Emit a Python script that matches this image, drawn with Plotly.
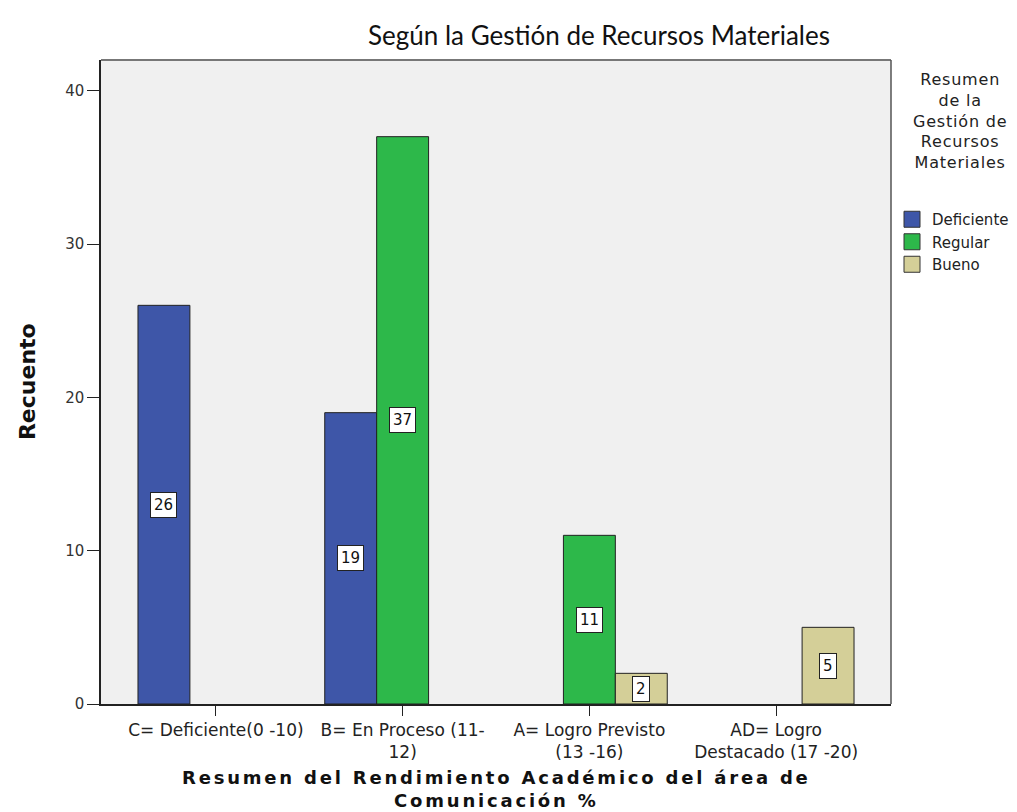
import plotly.graph_objects as go

categories = ["C= Deficiente(0 -10)", "B= En Proceso (11-<br>12)",
              "A= Logro Previsto<br>(13 -16)", "AD= Logro<br>Destacado (17 -20)"]
series_names = ["Deficiente", "Regular", "Bueno"]
deficiente = [26, 19, None, None]
regular = [None, 37, 11, None]
bueno = [None, None, 2, 5]
series_values = [deficiente, regular, bueno]
colors = ["#3e56a8", "#2db84a", "#d4cf98"]
y_ticks = [0, 10, 20, 30, 40]
title_text = "Según la Gestión de Recursos Materiales"
legend_title_lines = ["Resumen", "de la", "Gestión de", "Recursos", "Materiales"]
x_title_lines = ["Resumen del Rendimiento Académico del área de", "Comunicación %"]
y_title = "Recuento"

W, H = 1017, 812
ML, MR, MT, MB = 93, 133, 52, 116
PW, PH = W - ML - MR, H - MT - MB

bargap = 0.166
n_series = len(series_names)
bar_w = (1 - bargap) / n_series
xs = list(range(len(categories)))


def px_y(py):
    return 1 - (py - MT) / PH


def px_x(px):
    return (px - ML) / PW


def spaced(s, ls):
    return '<span style="letter-spacing:%spx">%s</span>' % (ls, s)


fig = go.Figure()
for name, vals, col in zip(series_names, series_values, colors):
    fig.add_trace(go.Bar(
        x=xs, y=vals, name=name, showlegend=False,
        marker=dict(color=col, line=dict(color="#222222", width=1)),
        hoverinfo="skip",
    ))
# legend entries (square swatches)
for name, col in zip(series_names, colors):
    fig.add_trace(go.Scatter(
        x=[None], y=[None], mode="markers", name=name,
        marker=dict(symbol="square", size=16, color=col,
                    line=dict(color="#333333", width=1)),
        hoverinfo="skip",
    ))

annotations = []
for si, vals in enumerate(series_values):
    off = (si - (n_series - 1) / 2) * bar_w
    for ci, v in enumerate(vals):
        if v is None:
            continue
        annotations.append(dict(
            x=xs[ci] + off, y=v / 2, xref="x", yref="y",
            text=str(v), showarrow=False,
            font=dict(family="DejaVu Sans", size=15, color="#111111"),
            bgcolor="white", bordercolor="#222222", borderwidth=1, borderpad=3,
        ))

# chart title
annotations.append(dict(
    x=px_x(592), y=px_y(27), xref="paper", yref="paper",
    xanchor="center", yanchor="middle",
    text=title_text, showarrow=False,
    font=dict(family="Lato", size=26, color="#111111"),
))
# legend title (centred lines)
annotations.append(dict(
    x=px_x(953), y=px_y(113), xref="paper", yref="paper",
    xanchor="center", yanchor="middle", align="center",
    text="<br>".join(spaced(l, 0.8) for l in legend_title_lines), showarrow=False,
    font=dict(family="DejaVu Sans", size=16, color="#222222"),
))
# x axis title
annotations.append(dict(
    x=px_x(489), y=px_y(781), xref="paper", yref="paper",
    xanchor="center", yanchor="middle", align="center",
    text="<br>".join("<b>" + spaced(l, 2.8) + "</b>" for l in x_title_lines),
    showarrow=False,
    font=dict(family="DejaVu Sans", size=18, color="#111111"),
))
# y axis title
annotations.append(dict(
    x=px_x(19), y=px_y(374), xref="paper", yref="paper",
    xanchor="center", yanchor="middle", textangle=-90,
    text="<b>" + y_title + "</b>", showarrow=False,
    font=dict(family="DejaVu Sans", size=22, color="#111111"),
))

fig.update_layout(
    width=W, height=H,
    margin=dict(l=ML, r=MR, t=MT, b=MB),
    paper_bgcolor="white", plot_bgcolor="#f0f0f0",
    barmode="group", bargap=bargap, bargroupgap=0,
    annotations=annotations,
    showlegend=True,
    legend=dict(
        x=px_x(884), y=px_y(195), xanchor="left", yanchor="top",
        font=dict(family="DejaVu Sans", size=15, color="#222222"),
        itemwidth=30, tracegroupgap=0, itemsizing="trace",
        bgcolor="rgba(0,0,0,0)",
    ),
    xaxis=dict(
        tickmode="array", tickvals=xs, ticktext=categories, tickangle=0,
        range=[-0.615, 3.615],
        showline=True, linecolor="#222222", linewidth=1.5, mirror=False,
        ticks="outside", ticklen=10, tickcolor="#222222",
        showgrid=False, zeroline=False,
        tickfont=dict(family="DejaVu Sans", size=17, color="#222222"),
    ),
    yaxis=dict(
        range=[0, 42], tickmode="array", tickvals=y_ticks,
        showline=True, linecolor="#222222", linewidth=1.5,
        ticks="outside", ticklen=12, tickcolor="#222222",
        showgrid=False, zeroline=False,
        tickfont=dict(family="DejaVu Sans", size=15, color="#333333"),
    ),
    shapes=[
        dict(type="line", xref="paper", yref="paper", x0=0, x1=1, y0=1, y1=1,
             line=dict(color="#777777", width=2)),
        dict(type="line", xref="paper", yref="paper", x0=1, x1=1, y0=0, y1=1,
             line=dict(color="#555555", width=1.5)),
    ],
)

fig.write_html("out.html")
